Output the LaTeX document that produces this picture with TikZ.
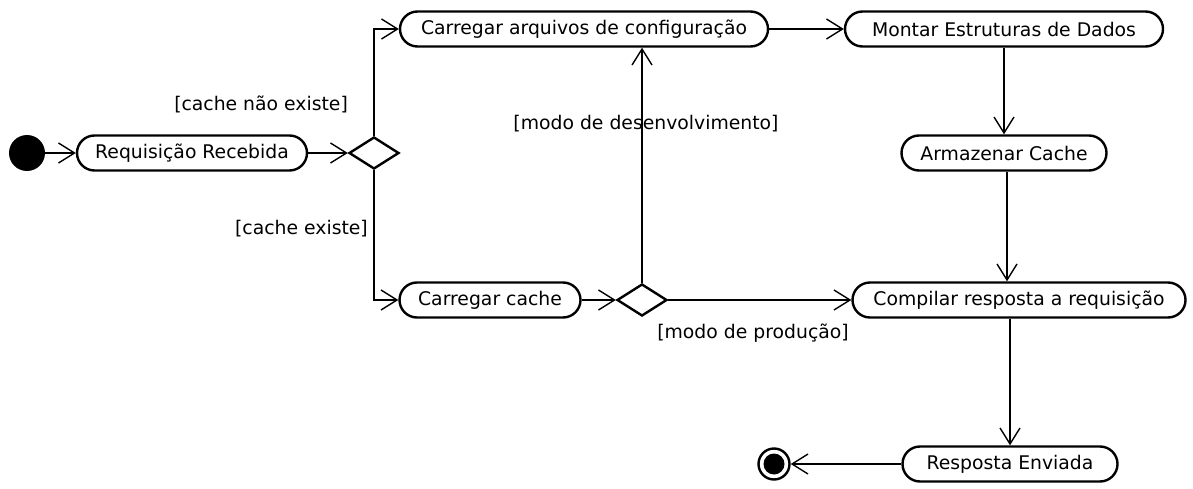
\documentclass[tikz,border=0pt]{standalone}
\usepackage{fontspec}
\setmainfont{DejaVu Sans}
\usetikzlibrary{arrows.meta,shapes.geometric}
\begin{document}
\begin{tikzpicture}[x=1pt,y=-1pt,
  font=\fontsize{18.8}{22}\selectfont,
  act/.style={draw, line width=2.4pt, rectangle, rounded corners=17.5pt, fill=white,
    minimum height=35pt, inner sep=0pt},
  decision/.style={draw, line width=2.4pt, diamond, fill=white,
    minimum width=50pt, minimum height=32pt, inner sep=0pt},
  flow/.style={line width=1.4pt, -{Straight Barb[length=16pt,width=20pt,line width=1.4pt]}},
  guard/.style={inner sep=0pt}]
  \useasboundingbox (0,0) rectangle (1193,489);

  % initial and final states
  \node[circle, fill=black, minimum size=36pt, inner sep=0pt] (start) at (27,153) {};
  \node[circle, draw, line width=2.4pt, minimum size=31pt, inner sep=0pt] (stop) at (774,464) {};
  \fill[black] (stop.center) circle (10.5pt);

  % actions
  \node[act, minimum width=230pt] (req)  at (192,153) {Requisição Recebida};
  \node[act, minimum width=368pt] (cfg)  at (584,29)  {Carregar arquivos de configuração};
  \node[act, minimum width=318pt] (mont) at (1004,29) {Montar Estruturas de Dados};
  \node[act, minimum width=205pt] (arm)  at (1004,153) {Armazenar Cache};
  \node[act, minimum width=181pt] (ccache) at (490,300) {Carregar cache};
  \node[act, minimum width=333pt] (comp) at (1019,300) {Compilar resposta a requisição};
  \node[act, minimum width=215pt] (resp) at (1010,464) {Resposta Enviada};

  % decisions
  \node[decision] (d1) at (374,153) {};
  \node[decision] (d2) at (642,300) {};

  % flows
  \draw[flow] (start) -- (req);
  \draw[flow] (req) -- (d1.west);
  \draw[flow] (d1.north) |- (cfg.west);
  \draw[flow] (d1.south) |- (ccache.west);
  \draw[flow] (ccache) -- (d2.west);
  \draw[flow] (d2.north) -- (d2.north |- cfg.south);
  \draw[flow] (d2.east) -- (comp.west);
  \draw[flow] (cfg) -- (mont);
  \draw[flow] (mont) -- (arm);
  \draw[flow] ([xshift=3pt]arm.south) -- ([xshift=3pt]arm.south |- comp.north);
  \draw[flow] (comp.south -| resp.north) -- (resp.north);
  \draw[flow] (resp) -- (stop);

  % guards
  \node[guard, anchor=east] (g1) at (348,104) {[cache não existe]};
  \node[guard, anchor=east] (g2) at (368,229) {[cache existe]};
  \node[guard] (g3) at (646,124) {[modo de desenvolvimento]};
  \node[guard] (g4) at (753,333) {[modo de produção]};
\end{tikzpicture}
\end{document}
